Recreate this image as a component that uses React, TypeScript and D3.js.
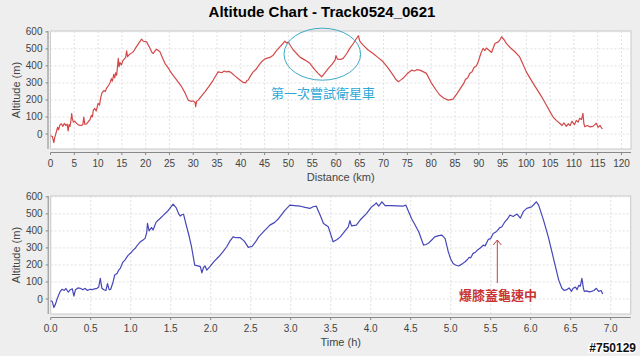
import React from "react";
import * as d3 from "d3";

const distanceKm = [0,0.4,0.7,0.9,1.2,1.5,1.7,2.0,2.3,2.6,2.9,3.2,3.5,3.7,3.9,4.1,4.3,4.45,4.6,4.8,5.1,5.4,5.7,6.0,6.4,6.8,7.0,7.2,7.6,8.0,8.3,8.6,8.8,9.0,9.3,9.6,10.0,10.3,10.6,10.8,11.2,11.5,11.8,12.2,12.5,12.8,13.0,13.3,13.5,13.7,13.9,14.1,14.25,14.4,14.6,14.9,15.2,15.5,15.8,16.0,16.2,16.5,17.0,17.4,18.0,18.6,19.15,19.5,20.2,20.8,21.3,21.6,22.0,22.3,23.0,23.5,24.05,24.8,25.45,26.5,27.55,28.3,28.95,29.5,30.0,30.4,30.5,30.7,31.05,31.8,32.45,33.3,34.2,34.8,35.25,36.0,36.5,37.0,37.5,38.0,38.8,39.8,40.5,41.0,41.3,41.55,42.0,42.6,43.2,43.8,44.35,45.0,45.4,46.1,46.8,47.5,48.2,48.8,49.25,49.6,50.0,50.4,51.0,51.7,52.5,53.5,54.5,55.5,56.3,57.0,57.7,58.4,59.2,59.8,60.0,60.3,61.0,61.5,62.2,62.9,63.6,64.3,64.7,65.0,65.7,66.7,67.8,68.8,69.9,71.0,72.0,72.6,73.1,73.5,74.1,75.0,75.9,76.5,77.0,77.6,78.2,79.0,80.1,81.0,81.8,82.7,83.6,84.6,85.5,86.4,86.9,87.2,87.7,88.1,88.6,89.0,89.5,89.9,90.4,90.9,91.3,91.6,92.1,92.7,93.4,94.1,94.5,94.8,95.3,95.8,96.7,97.6,98.6,99.3,100.0,101.0,102.1,103.2,104.2,105.0,105.6,106.3,107.0,107.5,107.9,108.4,108.8,109.2,109.6,110.1,110.5,110.9,111.2,111.6,111.9,112.1,112.3,112.8,113.4,114.0,114.4,114.7,115.1,115.5,115.8,116.0];
const altitudeByDistance = [-10,-15,-50,-20,10,40,25,55,60,45,62,50,58,18,55,45,80,120,90,70,75,65,58,52,50,55,100,58,60,75,85,110,100,140,150,135,180,170,220,240,255,250,270,285,300,325,310,350,330,360,345,400,445,395,420,405,430,440,450,488,455,465,475,483,510,535,557,545,541,510,480,473,490,498,483,450,415,385,356,318,278,240,199,192,194,185,160,192,199,225,248,280,317,345,365,360,370,365,368,360,340,317,303,300,315,317,340,365,380,405,424,440,444,450,463,490,512,530,545,535,540,520,495,473,450,434,415,380,355,336,360,385,410,434,460,440,438,444,470,503,530,561,577,545,522,495,473,450,424,385,346,320,307,315,327,355,375,370,378,375,368,356,297,260,229,210,199,205,240,278,300,320,330,356,365,390,400,424,470,503,490,505,493,479,532,541,555,571,555,532,505,483,453,410,365,318,268,220,170,130,101,80,63,50,65,45,60,50,75,55,80,70,92,85,121,60,43,50,42,45,55,63,40,50,35,30];

const timeHours = [0,0.02,0.04,0.06,0.08,0.1,0.12,0.14,0.17,0.19,0.22,0.24,0.27,0.29,0.31,0.34,0.37,0.4,0.43,0.46,0.49,0.52,0.55,0.58,0.6,0.62,0.64,0.67,0.69,0.71,0.73,0.75,0.78,0.8,0.83,0.85,0.87,0.9,0.93,0.95,0.97,1.0,1.03,1.06,1.09,1.12,1.15,1.18,1.2,1.21,1.23,1.26,1.28,1.3,1.32,1.36,1.41,1.47,1.53,1.57,1.6,1.62,1.64,1.66,1.7,1.73,1.76,1.8,1.84,1.87,1.89,1.91,1.93,1.95,1.99,2.04,2.1,2.15,2.2,2.24,2.28,2.32,2.37,2.42,2.47,2.52,2.56,2.6,2.67,2.74,2.8,2.85,2.93,2.99,3.05,3.12,3.18,3.24,3.28,3.32,3.37,3.41,3.47,3.53,3.58,3.62,3.67,3.72,3.74,3.76,3.82,3.88,3.95,4.01,4.04,4.07,4.1,4.14,4.18,4.25,4.33,4.4,4.44,4.51,4.56,4.6,4.66,4.69,4.72,4.76,4.8,4.85,4.89,4.93,4.97,5.0,5.03,5.06,5.1,5.14,5.18,5.21,5.23,5.25,5.28,5.31,5.34,5.37,5.41,5.43,5.47,5.5,5.53,5.56,5.58,5.61,5.64,5.67,5.69,5.71,5.74,5.78,5.83,5.87,5.91,5.95,6.01,6.04,6.07,6.1,6.16,6.22,6.28,6.35,6.39,6.42,6.45,6.48,6.51,6.53,6.56,6.58,6.6,6.62,6.64,6.66,6.67,6.7,6.73,6.76,6.79,6.82,6.85,6.88,6.9];
const altitudeByTime = [-10,-15,-50,-30,0,23,45,57,50,62,40,53,60,17,55,65,63,55,62,50,57,55,60,63,70,121,63,53,50,90,55,57,100,141,150,170,180,215,230,245,258,270,287,300,320,336,345,356,390,444,400,420,405,430,453,470,493,520,557,535,500,487,495,498,424,370,307,199,195,190,154,185,194,170,190,220,248,275,307,340,365,360,360,340,303,310,335,365,400,434,450,473,522,551,548,545,538,532,542,545,490,444,424,336,350,365,395,424,460,430,434,470,503,541,550,565,545,571,548,548,547,545,551,473,430,395,317,320,327,345,365,372,375,355,277,235,209,200,194,205,219,232,245,242,268,275,290,300,317,312,350,355,385,392,400,418,424,448,460,470,493,485,499,475,515,532,541,555,571,550,463,365,248,111,63,50,55,65,45,63,70,55,80,75,121,60,45,48,42,45,50,63,45,50,29];

const altitudeTicks = [0, 100, 200, 300, 400, 500, 600];
const distanceTicks = d3.range(0, 121, 5);
const timeTicks = d3.range(0, 7.01, 0.5);

const W = 640, H = 356;
const FONT = "Liberation Sans, Arial, sans-serif";

function Panel({ xs, ys, xDomain, xRange, yRange, xTicks, xFmt, xTitle, color }) {
  const x = d3.scaleLinear().domain(xDomain).range(xRange);
  const y = d3.scaleLinear().domain([-88, 605]).range(yRange);
  const line = d3.line<number>().x((_, i) => x(xs[i])).y((v) => y(v));
  const [left, right] = xRange;
  const [bottom, top] = yRange;
  return (
    <g fontFamily={FONT}>
      <rect x={left} y={top} width={right - left} height={bottom - top} fill="#ffffff" stroke="#c8c8c8" strokeWidth={1} />
      {xTicks.map((t) => (
        <line key={"gx" + t} x1={x(t)} x2={x(t)} y1={top} y2={bottom} stroke="#d8d8d8" strokeDasharray="2,2" strokeWidth={0.8} />
      ))}
      {altitudeTicks.map((t) => (
        <line key={"gy" + t} x1={left} x2={right} y1={y(t)} y2={y(t)} stroke="#d8d8d8" strokeDasharray="2,2" strokeWidth={0.8} />
      ))}
      <path d={line(ys) || ""} fill="none" stroke={color} strokeWidth={1.2} strokeLinejoin="round" />
      <line x1={left - 2.5} x2={left - 2.5} y1={top} y2={bottom} stroke="#888" strokeWidth={1} />
      {altitudeTicks.map((t) => (
        <g key={"ty" + t}>
          <line x1={left - 5} x2={left - 2.5} y1={y(t)} y2={y(t)} stroke="#888" />
          <text x={left - 8} y={y(t) + 3.5} fontSize={10} fill="#444" textAnchor="end">{t}</text>
        </g>
      ))}
      <text transform={`translate(${left - 31},${(top + bottom) / 2}) rotate(-90)`} fontSize={11} fill="#444" textAnchor="middle">Altitude (m)</text>
      <line x1={left} x2={right} y1={bottom + 3.5} y2={bottom + 3.5} stroke="#888" strokeWidth={1} />
      {xTicks.map((t) => (
        <g key={"tx" + t}>
          <line x1={x(t)} x2={x(t)} y1={bottom + 3.5} y2={bottom + 6} stroke="#888" />
          <text x={x(t)} y={bottom + 17.5} fontSize={10} fill="#444" textAnchor="middle">{xFmt(t)}</text>
        </g>
      ))}
      <text x={(left + right) / 2} y={bottom + 32} fontSize={11} fill="#444" textAnchor="middle">{xTitle}</text>
    </g>
  );
}

export default function App() {
  return (
    <svg width={W} height={H} style={{ position: "absolute", left: 0, top: 0 }}>
      <rect width={W} height={H} fill="#eeeeee" />
      <text x={322} y={17} fontFamily={FONT} fontSize={15} fontWeight="bold" fill="#000" textAnchor="middle">Altitude Chart - Track0524_0621</text>
      <Panel xs={distanceKm} ys={altitudeByDistance} xDomain={[0, 122]} xRange={[50.5, 631]} yRange={[149, 31]}
        xTicks={distanceTicks} xFmt={(t) => String(t)} xTitle="Distance (km)" color="#d44848" />
      <Panel xs={timeHours} ys={altitudeByTime} xDomain={[0, 7.25]} xRange={[50.7, 630.7]} yRange={[314, 196]}
        xTicks={timeTicks} xFmt={(t) => t.toFixed(1)} xTitle="Time (h)" color="#4646b8" />
      <ellipse cx={322.3} cy={54.2} rx={38.3} ry={26} fill="none" stroke="#3fa9c6" strokeWidth={1} />
      <text x={323} y={98} fontFamily="Noto Sans CJK TC, sans-serif" fontSize={13} fill="#2ea8d6" textAnchor="middle">第一次嘗試衛星車</text>
      <line x1={497.3} x2={497.3} y1={240} y2={283} stroke="#c04444" strokeWidth={1} />
      <polyline points="493.3,245 497.3,240 501.3,245" fill="none" stroke="#c04444" strokeWidth={1} />
      <text x={498} y={299.5} fontFamily="Noto Sans CJK TC, sans-serif" fontSize={13} fontWeight="bold" fill="#c83434" textAnchor="middle">爆膝蓋龜速中</text>
      <text x={636} y={352} fontFamily={FONT} fontSize={12} fontWeight="bold" fill="#111" stroke="#fff" strokeWidth={2.5} paintOrder="stroke" textAnchor="end">#750129</text>
    </svg>
  );
}
